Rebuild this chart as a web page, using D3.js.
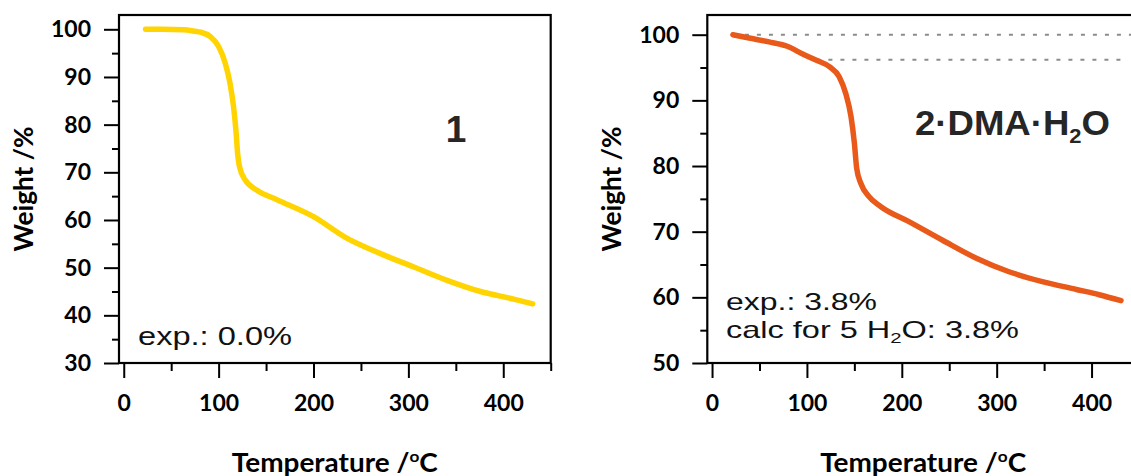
<!DOCTYPE html>
<html>
<head>
<meta charset="utf-8">
<script src="https://cdn.jsdelivr.net/npm/d3@7/dist/d3.min.js"></script>
<style>
  html, body { margin: 0; padding: 0; background: #fff; }
  svg { display: block; }
  .tick text { font-family: Lato, "Open Sans", sans-serif; font-weight: 700; font-size: 23px; fill: #000; }
  .tick line { stroke: #000; stroke-width: 2; }
</style>
</head>
<body>
<svg id="chart" width="1131" height="476"></svg>
<script>
// Thermogravimetric curves: temperature (°C) vs. remaining weight (%)
const tempMajorTicks = [0, 100, 200, 300, 400];
const tempMinorTicks = [50, 150, 250, 350, 450];

// Compound 1
const temp1 = [23, 40, 63, 75, 81, 91, 100, 107, 112, 115.7, 118.5, 120, 122, 128, 140, 161, 200, 235, 270, 305, 340, 376, 411, 431];
const weight1 = [100, 100, 99.9, 99.6, 99.4, 98.5, 96.4, 92.9, 88.7, 83.8, 78.2, 74.0, 71.2, 68.4, 66.3, 64.3, 60.7, 56.2, 53.0, 50.2, 47.4, 45.0, 43.4, 42.4];
const weightMajor1 = [30, 40, 50, 60, 70, 80, 90, 100];
const weightMinor1 = [35, 45, 55, 65, 75, 85, 95];

// Compound 2·DMA·H2O
const temp2 = [22, 39, 60, 80, 95, 110, 124, 134, 141, 146.5, 150, 152.5, 157, 165, 178, 208, 243, 278, 313, 348, 384, 408, 431];
const weight2 = [100, 99.5, 98.9, 98.2, 97.1, 96.1, 95.1, 93.6, 91.0, 87.5, 83.5, 79.6, 77.3, 75.4, 73.8, 71.5, 68.7, 66.0, 63.9, 62.4, 61.2, 60.4, 59.5];
const weightMajor2 = [50, 60, 70, 80, 90, 100];
const weightMinor2 = [55, 65, 75, 85, 95];

// Dashed guide levels marking the water loss step
const guideLevels = [100, 96.2];
const guideStart = [22, 110];
const guideEnd = [450, 432];

const svg = d3.select("#chart");

function drawPanel(opts) {
  const g = svg.append("g");
  const x = d3.scaleLinear().domain([-5, 450]).range([opts.left, opts.left + 431.7]);
  const y = d3.scaleLinear().domain(opts.yDomain).range([363, 15]);

  // Minor ticks
  g.append("g").attr("transform", "translate(0,363)")
    .call(d3.axisBottom(x).tickValues(tempMinorTicks).tickSize(8).tickSizeOuter(0).tickFormat(""))
    .call(a => a.select(".domain").remove());
  g.append("g").attr("transform", `translate(${opts.left},0)`)
    .call(d3.axisLeft(y).tickValues(opts.yMinor).tickSize(7).tickSizeOuter(0).tickFormat(""))
    .call(a => a.select(".domain").remove());

  // Major ticks with labels
  g.append("g").attr("transform", "translate(0,363)")
    .call(d3.axisBottom(x).tickValues(tempMajorTicks).tickSize(15).tickPadding(17).tickSizeOuter(0))
    .call(a => a.select(".domain").remove());
  g.append("g").attr("transform", `translate(${opts.left},0)`)
    .call(d3.axisLeft(y).tickValues(opts.yMajor).tickSize(15).tickPadding(13).tickSizeOuter(0))
    .call(a => a.select(".domain").remove());

  // Frame
  g.append("rect")
    .attr("x", x.range()[0]).attr("y", y.range()[1])
    .attr("width", x.range()[1] - x.range()[0])
    .attr("height", y.range()[0] - y.range()[1])
    .attr("fill", "none").attr("stroke", "#000").attr("stroke-width", 2.2);

  if (opts.guides) {
    guideLevels.forEach((lv, i) => {
      g.append("line")
        .attr("x1", x(guideStart[i])).attr("x2", x(guideEnd[i]))
        .attr("y1", y(lv)).attr("y2", y(lv))
        .attr("stroke", "#8c8c8c").attr("stroke-width", 2)
        .attr("stroke-dasharray", "4,8");
    });
  }

  const line = d3.line()
    .x(d => x(d[0])).y(d => y(d[1]))
    .curve(d3.curveMonotoneX);
  g.append("path")
    .datum(opts.temps.map((t, i) => [t, opts.weights[i]]))
    .attr("d", line)
    .attr("fill", "none").attr("stroke", opts.color)
    .attr("stroke-width", 5.5).attr("stroke-linecap", "round").attr("stroke-linejoin", "round");

  // Axis titles
  const cx = (x.range()[0] + x.range()[1]) / 2;
  const xt = g.append("text")
    .attr("x", cx).attr("y", 471.5).attr("text-anchor", "middle")
    .attr("font-family", "Lato, sans-serif").attr("font-weight", 700).attr("font-size", 26)
    .attr("textLength", 206).attr("lengthAdjust", "spacingAndGlyphs");
  xt.append("tspan").text("Temperature /");
  xt.append("tspan").attr("dy", -10).attr("font-size", 16).text("o");
  xt.append("tspan").attr("dy", 10).text("C");

  g.append("text")
    .attr("transform", `translate(${opts.left - 86},189) rotate(-90)`)
    .attr("text-anchor", "middle")
    .attr("font-family", "Lato, sans-serif").attr("font-weight", 700).attr("font-size", 26)
    .attr("textLength", 125).attr("lengthAdjust", "spacingAndGlyphs")
    .text("Weight /%");

  return { g, x, y };
}

const p1 = drawPanel({
  left: 119, yDomain: [30, 103], yMajor: weightMajor1, yMinor: weightMinor1,
  temps: temp1, weights: weight1, color: "#FFD400", guides: false
});
const p2 = drawPanel({
  left: 707.3, yDomain: [50, 103], yMajor: weightMajor2, yMinor: weightMinor2,
  temps: temp2, weights: weight2, color: "#E8591A", guides: true
});

// Compound labels
p1.g.append("text")
  .attr("x", 456).attr("y", 141.5).attr("text-anchor", "middle")
  .attr("font-family", "'Liberation Sans', Arial, sans-serif").attr("font-weight", 700)
  .attr("font-size", 37).attr("fill", "#262626").text("1");

const lab2 = p2.g.append("text")
  .attr("x", 915).attr("y", 135)
  .attr("font-family", "'Liberation Sans', Arial, sans-serif").attr("font-weight", 700)
  .attr("font-size", 35).attr("fill", "#262626")
  .attr("textLength", 195).attr("lengthAdjust", "spacingAndGlyphs");
lab2.append("tspan").text("2·DMA·H");
lab2.append("tspan").attr("dy", 8).attr("font-size", 21).text("2");
lab2.append("tspan").attr("dy", -8).text("O");

// Weight-loss annotations
const annoFont = "'Liberation Sans', Arial, sans-serif";
p1.g.append("text")
  .attr("x", 138).attr("y", 345)
  .attr("font-family", annoFont).attr("font-size", 26).attr("fill", "#111")
  .attr("textLength", 154).attr("lengthAdjust", "spacingAndGlyphs")
  .text("exp.: 0.0%");

p2.g.append("text")
  .attr("x", 726).attr("y", 309.5)
  .attr("font-family", annoFont).attr("font-size", 24).attr("fill", "#111")
  .attr("textLength", 151).attr("lengthAdjust", "spacingAndGlyphs")
  .text("exp.: 3.8%");

const calc = p2.g.append("text")
  .attr("x", 726).attr("y", 338)
  .attr("font-family", annoFont).attr("font-size", 24).attr("fill", "#111")
  .attr("textLength", 293).attr("lengthAdjust", "spacingAndGlyphs");
calc.append("tspan").text("calc for 5 H");
calc.append("tspan").attr("dy", 5).attr("font-size", 15).text("2");
calc.append("tspan").attr("dy", -5).text("O: 3.8%");
</script>
</body>
</html>
